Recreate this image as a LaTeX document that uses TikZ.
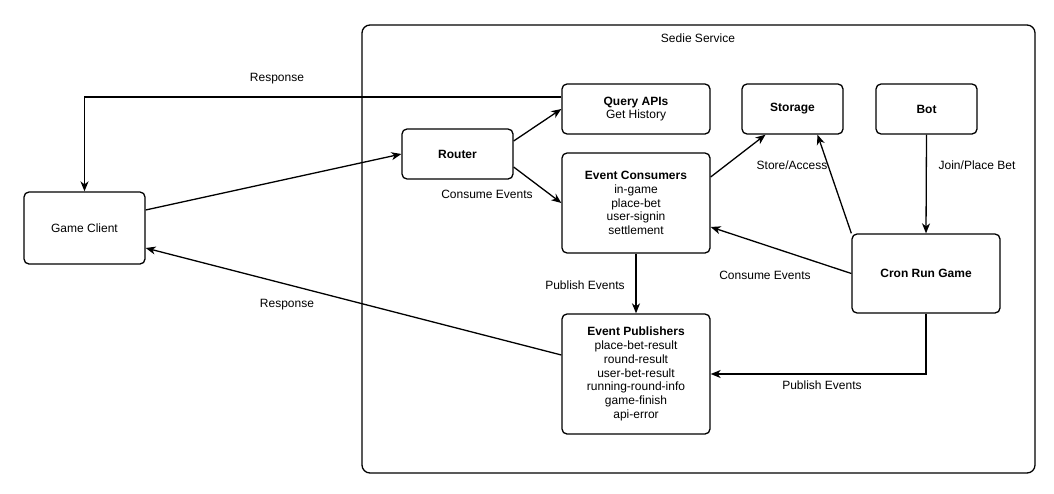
\documentclass[tikz,border=0pt]{standalone}
\usepackage{fontspec}
\setmainfont{Liberation Sans}
\usetikzlibrary{arrows.meta}
\tikzset{
  box/.style = {draw, line width = 1.3pt, rounded corners = 5pt, align = center,
    inner sep = 0pt, font = \fontsize{12}{13.8}\selectfont},
  flow/.style = {line width = 1.3pt, -{Stealth[length = 10pt, width = 8pt, inset = 3pt]}},
  lbl/.style = {font = \fontsize{12}{14}\selectfont, inner sep = 0pt}
}
\begin{document}
\begin{tikzpicture}[x = 1pt, y = -1pt]
      \useasboundingbox (0,0) rectangle (1054,493);
      % service frame
      \draw [line width = 1.3pt, rounded corners = 8pt] (362,25) rectangle (1035,473);
      \node [lbl] (title) at (698,38) {Sedie Service};
      % boxes
      \node [box, minimum width = 121pt, minimum height = 72pt] (client) at (84.5,228) {Game Client};
      \node [box, minimum width = 111pt, minimum height = 50pt] (router) at (457.5,154) {\textbf{Router}};
      \node [box, minimum width = 148pt, minimum height = 50pt] (query) at (636,109) {\textbf{Query APIs}\\Get History};
      \node [box, minimum width = 148pt, minimum height = 100pt] (consumers) at (636,203)
        {\textbf{Event Consumers}\\in-game\\place-bet\\user-signin\\settlement};
      \node [box, minimum width = 101pt, minimum height = 50pt] (storage) at (792.5,109) {\textbf{Storage}};
      \node [box, minimum width = 101pt, minimum height = 50pt] (bot) at (926.5,109) {\textbf{Bot}};
      \node [box, minimum width = 148pt, minimum height = 79pt] (cron) at (926,273.5) {\textbf{Cron Run Game}};
      \node [box, minimum width = 148pt, minimum height = 120pt] (publishers) at (636,374)
        {\textbf{Event Publishers}\\place-bet-result\\round-result\\user-bet-result\\running-round-info\\game-finish\\api-error};
      % connectors
      \draw [flow] ([yshift = 18pt]client.east) -- (router.west);
      \draw [flow] ([yshift = 12pt]query.west) -| (client.north);
      \draw [flow] ([yshift = 13pt]router.east) -- (query.west);
      \draw [flow] ([yshift = -13pt]router.east) -- (consumers.west);
      \draw [flow] ([yshift = 26pt]consumers.east) -- ([xshift = -27pt]storage.south);
      \draw [flow] (cron.north west) -- ([xshift = 25pt]storage.south);
      \draw [flow] (bot.south) -- (cron.north);
      \draw [flow] (cron.west) -- ([yshift = -24pt]consumers.east);
      \draw [flow] (consumers.south) -- (publishers.north);
      \draw [flow] (cron.south) |- (publishers.east);
      \draw [flow] ([yshift = 19pt]publishers.west) -- ([yshift = -20pt]client.east);
      % labels
      \node [lbl] (resp1) at (277,79) {Response};
      \node [lbl] (resp2) at (287,305) {Response};
      \node [lbl] (consume1) at (487,194) {Consume Events};
      \node [lbl] (store) at (792,165) {Store/Access};
      \node [lbl] (join) at (977,165) {Join/Place Bet};
      \node [lbl] (consume2) at (765,275) {Consume Events};
      \node [lbl] (publish1) at (585,285) {Publish Events};
      \node [lbl] (publish2) at (822,385) {Publish Events};
\end{tikzpicture}
\end{document}
